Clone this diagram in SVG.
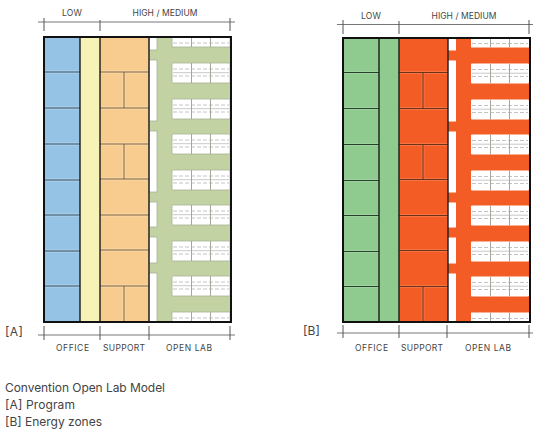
<svg xmlns="http://www.w3.org/2000/svg" xmlns:xlink="http://www.w3.org/1999/xlink" width="550" height="438" viewBox="0 0 550 438">
<style>
text{font-family:Inter,"Liberation Sans",sans-serif;fill:#444}
.s{font-size:8.5px}
.c{font-size:12px}
.m{text-anchor:middle}
.dim{stroke:#777;stroke-width:1;fill:none}
.tick{stroke:#555;stroke-width:1;fill:none}
.frame{fill:none;stroke:#111;stroke-width:2}
.wall{stroke:#1a1a1a;stroke-width:1.4;fill:none}
.halo{stroke:#fff;stroke-opacity:.3;stroke-width:3;fill:none}
.dash{stroke:#c4c4c4;stroke-width:1;stroke-dasharray:4 2;fill:none}
.solid{stroke:#c9c9c9;stroke-width:1;fill:none}
.div{stroke:#a3a89a;stroke-width:1;fill:none}
.white{fill:#fff}
</style>
<defs>
<g id="room">
<rect class="white" x="172" y="0" width="58" height="20" rx="1"/>
<path class="dash" d="M173 6H229M173 13H229"/>
<path class="solid" d="M173 9.7H229"/>
<path class="div" d="M191.5 0V20M210.5 0V20"/>
</g>
<g id="rooms">
<rect class="white" x="172" y="37" width="58" height="10"/>
<path class="dash" d="M173 43H229"/>
<path class="div" d="M191.5 37V47M210.5 37V47"/>
<use xlink:href="#room" y="63"/>
<use xlink:href="#room" y="99"/>
<use xlink:href="#room" y="134"/>
<use xlink:href="#room" y="170"/>
<use xlink:href="#room" y="205"/>
<use xlink:href="#room" y="241"/>
<use xlink:href="#room" y="276"/>
<rect class="white" x="172" y="312" width="58" height="10"/>
<path class="dash" d="M173 318H229"/>
<path class="div" d="M191.5 312V322M210.5 312V322"/>
</g>
<g id="strips">
<rect class="white" x="149" y="37" width="8" height="13"/>
<rect class="white" x="149" y="60" width="8" height="61"/>
<rect class="white" x="149" y="131" width="8" height="61"/>
<rect class="white" x="149" y="202" width="8" height="25"/>
<rect class="white" x="149" y="237" width="8" height="26"/>
<rect class="white" x="149" y="273" width="8" height="49"/>
</g>
<path id="hal" d="M44 72H80M44 108H80M44 144H80M44 180H80M44 215H80M44 251H80M44 286H80M100 72H149M100 108H149M100 144H149M100 179H149M100 215H149M100 250H149M100 286H149M124 72V108M124 144V179M124 286V322"/>
</defs>

<g id="panel-a">
<rect x="44" y="37" width="36" height="285" fill="#95c3e6"/>
<rect x="80" y="37" width="20" height="285" fill="#f7f2b5"/>
<rect x="100" y="37" width="49" height="285" fill="#f8cb8e"/>
<rect x="149" y="37" width="82" height="285" fill="#c2d2a2"/>
<use xlink:href="#hal" class="halo"/>
<use xlink:href="#strips" stroke="#a9b396" stroke-width=".8"/>
<use xlink:href="#rooms" stroke="#a9b396" stroke-width=".8"/>
<path d="M44 72H80M44 108H80M44 144H80M44 180H80M44 215H80M44 251H80M44 286H80" stroke="#2f4a5c" stroke-width="1" fill="none"/>
<path d="M100 72H149M100 108H149M100 144H149M100 179H149M100 215H149M100 250H149M100 286H149M124 72V108M124 144V179M124 286V322" stroke="#7d6138" stroke-width="1" fill="none"/>
<path class="wall" d="M80 37V322M100 37V322M149 37V322"/>
<rect class="frame" x="44" y="37" width="187" height="285"/>
</g>

<g id="panel-b">
<rect x="343" y="38" width="56" height="284" fill="#8fcb8f"/>
<rect x="399" y="38" width="49" height="284" fill="#f45c25"/>
<rect x="448" y="38" width="82" height="284" fill="#f45c25"/>
<g transform="translate(299 .5)">
<use xlink:href="#hal" class="halo" style="stroke-opacity:.15"/>
<use xlink:href="#strips"/>
<use xlink:href="#rooms"/>
</g>
<path d="M343 72.500H379M343 108.500H379M343 144.500H379M343 180.500H379M343 215.500H379M343 251.500H379M343 286.500H379" stroke="#24432a" stroke-width="1.200" fill="none"/>
<path d="M399 72.500H448M399 108.500H448M399 144.500H448M399 179.500H448M399 215.500H448M399 250.500H448M399 286.500H448M423 72.500V108.500M423 144.500V179.500M423 286.500V322" stroke="#6e3216" stroke-width="1" fill="none"/>
<path class="wall" d="M379 38V322M399 38V322M448 38V322"/>
<rect class="frame" x="343" y="38" width="187" height="284"/>
</g>

<g id="connectors">
<path class="dim" d="M38 22H235"/>
<path class="tick" d="M44 18V31M100 20V31M230 18V31"/>
<path class="dim" d="M38 335H235"/>
<path class="tick" d="M44 326V340M100 326V340M149 326V340M230 326V340"/>
<path class="dim" d="M337 24.500H533"/>
<path class="tick" d="M343 20V34M399 21V34M529 20V34"/>
<path class="dim" d="M337 333H533"/>
<path class="tick" d="M343 325V338M399 325V338M447 325V338M529 325V338"/>
</g>

<g id="labels-a">
<text class="s m" x="72" y="15.500" textLength="20">LOW</text>
<text class="s m" x="165" y="15.500" textLength="65">HIGH / MEDIUM</text>
<text class="s m" x="72.500" y="351" textLength="33">OFFICE</text>
<text class="s m" x="124" y="351" textLength="42">SUPPORT</text>
<text class="s m" x="189" y="351" textLength="46">OPEN LAB</text>
<text class="c" x="5" y="336" textLength="18">[A]</text>
</g>
<g id="labels-b">
<text class="s m" x="371" y="19" textLength="20">LOW</text>
<text class="s m" x="464" y="19" textLength="65">HIGH / MEDIUM</text>
<text class="s m" x="371.500" y="351" textLength="33">OFFICE</text>
<text class="s m" x="422" y="351" textLength="42">SUPPORT</text>
<text class="s m" x="488" y="351" textLength="46">OPEN LAB</text>
<text class="c" x="303" y="335" textLength="17">[B]</text>
</g>
<g id="caption">
<text class="c" x="5" y="392" textLength="160">Convention Open Lab Model</text>
<text class="c" x="5" y="409" textLength="70">[A] Program</text>
<text class="c" x="5" y="426" textLength="97">[B] Energy zones</text>
</g>
</svg>
